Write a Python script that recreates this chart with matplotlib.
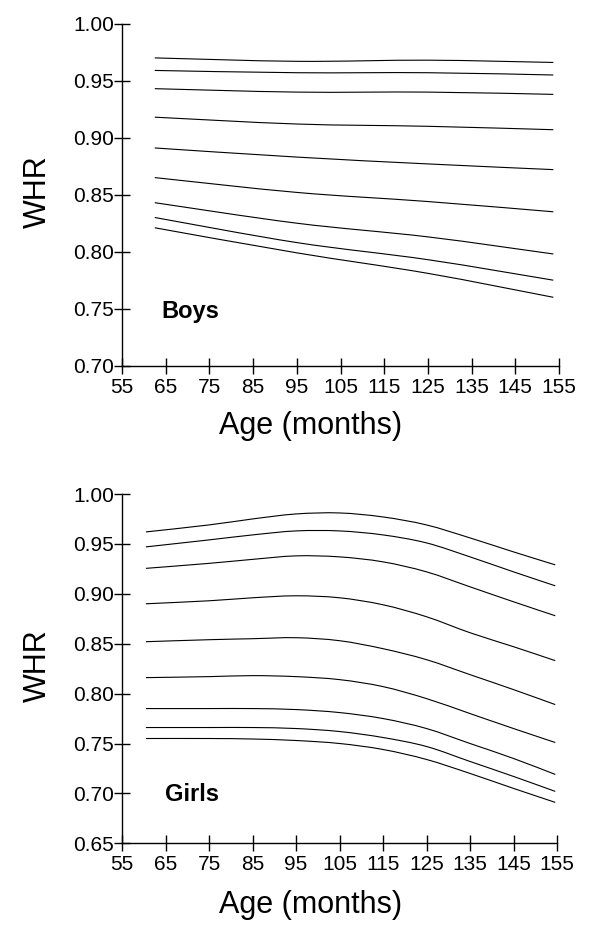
import matplotlib
matplotlib.use("Agg")
import matplotlib.pyplot as plt
from matplotlib.path import Path
from matplotlib.patches import PathPatch

TICKFONT = "Liberation Sans"
MAINFONT = "Liberation Sans"

# ---------------- data ----------------
boys_age = [62.5, 95, 125, 153.7]
boys_curves = [
    [0.970, 0.967, 0.968, 0.966],
    [0.959, 0.957, 0.957, 0.955],
    [0.943, 0.940, 0.940, 0.938],
    [0.918, 0.912, 0.910, 0.907],
    [0.891, 0.883, 0.877, 0.872],
    [0.865, 0.852, 0.844, 0.835],
    [0.843, 0.825, 0.813, 0.798],
    [0.830, 0.808, 0.793, 0.775],
    [0.821, 0.799, 0.781, 0.760],
]

girls_age = [60.5, 75, 85, 95, 105, 115, 125, 135, 145, 154.6]
girls_curves = [
    [0.962, 0.969, 0.975, 0.980, 0.981, 0.977, 0.969, 0.956, 0.942, 0.929],
    [0.947, 0.954, 0.959, 0.963, 0.963, 0.959, 0.951, 0.937, 0.922, 0.908],
    [0.9255, 0.9305, 0.9345, 0.938, 0.937, 0.932, 0.922, 0.907, 0.892, 0.878],
    [0.890, 0.893, 0.896, 0.898, 0.896, 0.889, 0.877, 0.861, 0.847, 0.833],
    [0.852, 0.854, 0.855, 0.856, 0.853, 0.845, 0.834, 0.819, 0.804, 0.789],
    [0.816, 0.817, 0.818, 0.817, 0.814, 0.807, 0.795, 0.780, 0.765, 0.751],
    [0.785, 0.785, 0.785, 0.784, 0.781, 0.775, 0.765, 0.750, 0.735, 0.719],
    [0.766, 0.766, 0.766, 0.765, 0.762, 0.756, 0.747, 0.732, 0.717, 0.702],
    [0.755, 0.755, 0.7545, 0.753, 0.750, 0.744, 0.734, 0.720, 0.705, 0.691],
]

x_ticks = [55, 65, 75, 85, 95, 105, 115, 125, 135, 145, 155]
boys_yticks = [0.70, 0.75, 0.80, 0.85, 0.90, 0.95, 1.00]
girls_yticks = [0.65, 0.70, 0.75, 0.80, 0.85, 0.90, 0.95, 1.00]

# ---------------- figure ----------------
W, H = 600, 932
fig = plt.figure(figsize=(W / 100, H / 100), dpi=100)


def px_axes(left, top, right, bottom):
    return fig.add_axes([left / W, 1 - bottom / H, (right - left) / W, (bottom - top) / H])


def smooth_curve(ax, xs, ys):
    """Draw a smooth line through the data points (Catmull-Rom as Bezier path)."""
    pts = list(zip(xs, ys))
    n = len(pts)
    verts = [pts[0]]
    codes = [Path.MOVETO]
    for i in range(n - 1):
        p0 = pts[i - 1] if i > 0 else pts[i]
        p1 = pts[i]
        p2 = pts[i + 1]
        p3 = pts[i + 2] if i + 2 < n else pts[i + 1]
        c1 = (p1[0] + (p2[0] - p0[0]) / 6, p1[1] + (p2[1] - p0[1]) / 6)
        c2 = (p2[0] - (p3[0] - p1[0]) / 6, p2[1] - (p3[1] - p1[1]) / 6)
        verts += [c1, c2, p2]
        codes += [Path.CURVE4] * 3
    ax.add_patch(PathPatch(Path(verts, codes), facecolor="none",
                           edgecolor="black", lw=0.8, transform=ax.transData))


def style(ax, yticks, label, lx, ly):
    ax.set_xlim(55, 155)
    ax.set_ylim(yticks[0], yticks[-1])
    ax.set_xticks(x_ticks)
    ax.set_yticks(yticks)
    ax.set_xticklabels([str(v) for v in x_ticks], fontfamily=TICKFONT, fontsize=15)
    ax.set_yticklabels([f"{v:.2f}" for v in yticks], fontfamily=TICKFONT, fontsize=15)
    for s in ("top", "right"):
        ax.spines[s].set_visible(False)
    for s in ("left", "bottom"):
        ax.spines[s].set_linewidth(1.0)
        ax.spines[s].set_color("black")
    ax.tick_params(axis="both", direction="inout", length=11, width=1.0, color="black")
    ax.tick_params(axis="x", pad=3)
    ax.tick_params(axis="y", pad=0)
    ax.text(lx, ly, label, fontfamily=MAINFONT, fontweight="bold", fontsize=17,
            ha="left", va="baseline")


# Boys
ax1 = px_axes(122, 23.7, 559, 365.7)
for c in boys_curves:
    smooth_curve(ax1, boys_age, c)
style(ax1, boys_yticks, "Boys", 64.0, 0.742)

# Girls
ax2 = px_axes(122, 494, 557, 843.3)
for c in girls_curves:
    smooth_curve(ax2, girls_age, c)
style(ax2, girls_yticks, "Girls", 64.8, 0.692)

# axis titles
for yc in (426, 905):
    fig.text(311 / W, 1 - yc / H, "Age (months)", fontfamily=MAINFONT, fontsize=22,
             ha="center", va="center")
for yc in (192, 666):
    fig.text(38 / W, 1 - yc / H, "WHR", fontfamily=MAINFONT, fontsize=22,
             ha="center", va="center", rotation=90)

fig.savefig("out.png", dpi=100, facecolor="white")
